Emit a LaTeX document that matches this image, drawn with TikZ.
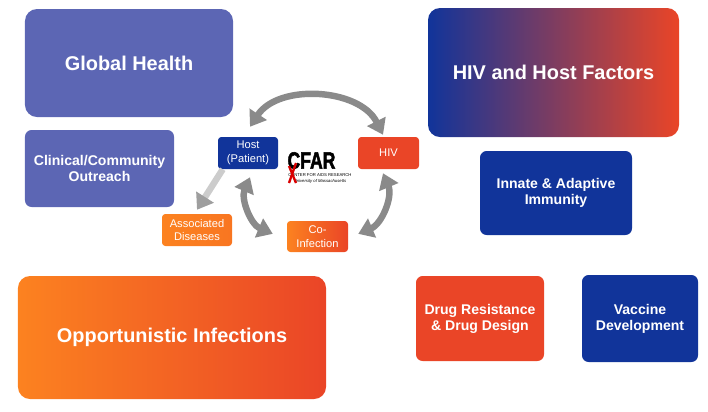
\documentclass[tikz,border=0pt]{standalone}
\usepackage{fontspec}
\setmainfont{Liberation Sans}
\newfontfamily\logofont{Liberation Sans}[BoldFeatures={FakeBold=2.5}]
\usetikzlibrary{arrows.meta}
\definecolor{slate}{RGB}{92,102,180}
\definecolor{navy}{RGB}{17,52,154}
\definecolor{redorange}{RGB}{234,69,39}
\definecolor{cforange}{RGB}{252,130,32}
\definecolor{arrowgray}{RGB}{138,138,138}

\begin{document}
\begin{tikzpicture}[x=0.03cm, y=-0.03cm]
        \tikzstyle{every node}=[text=white, align=center, inner sep=2pt]
        \tikzstyle{bigbox}=[rounded corners=0.36cm, font=\fontsize{17}{20}\selectfont\bfseries]
        \tikzstyle{midbox}=[rounded corners=0.2cm, font=\fontsize{12}{13.5}\selectfont\bfseries]
        \tikzstyle{smallbox}=[rounded corners=0.1cm, font=\fontsize{9.5}{11.5}\selectfont]
        \tikzstyle{cycle}=[draw=arrowgray, line width=5.5pt, {Triangle[length=0.45cm,width=0.6cm]}-{Triangle[length=0.45cm,width=0.6cm]}]

% This figure represents the research areas around the host / HIV cycle.

        \useasboundingbox (0,0) rectangle (708,411);

        \node[bigbox, fill=slate, minimum width=6.24cm, minimum height=3.24cm] (global) at (129,63) {Global Health};
        \node[midbox, fill=slate, minimum width=4.47cm, minimum height=2.31cm] (clinical) at (99.5,168.5) {Clinical/Community\\Outreach};
        \node[bigbox, left color=navy, right color=redorange, minimum width=7.53cm, minimum height=3.87cm] (factors) at (553.5,72.5) {HIV and Host Factors};
        \node[midbox, fill=navy, minimum width=4.56cm, minimum height=2.52cm] (immunity) at (556,193) {Innate \& Adaptive\\Immunity};
        \node[midbox, fill=redorange, minimum width=3.84cm, minimum height=2.55cm] (drugs) at (480,318.5) {Drug Resistance\\\& Drug Design};
        \node[midbox, fill=navy, minimum width=3.48cm, minimum height=2.61cm] (vaccine) at (640,318.5) {Vaccine\\Development};
        \node[bigbox, left color=cforange, right color=redorange, minimum width=9.24cm, minimum height=3.69cm] (infections) at (172,337.5) {Opportunistic Infections};

        \node[smallbox, fill=navy, minimum width=1.8cm, minimum height=0.96cm] (host) at (248,153) {Host\\(Patient)};
        \node[smallbox, fill=redorange, minimum width=1.83cm, minimum height=0.96cm] (hiv) at (388.5,153) {HIV};
        \node[smallbox, left color=cforange, right color=cforange!80!redorange, minimum width=2.1cm, minimum height=0.96cm] (assoc) at (197,230) {Associated\\Diseases};
        \node[smallbox, left color=cforange, right color=redorange, minimum width=1.83cm, minimum height=0.93cm] (coinf) at (317.5,236.5) {Co-\\Infection};

        \node[text=black, font=\logofont\fontsize{20}{20}\selectfont\bfseries, inner sep=0pt, xscale=0.75] (cfar) at (311.5,160.5) {CFAR};
        \node[text=black, font=\fontsize{3.6}{4.4}\selectfont, inner sep=0pt] (cfarsub) at (320,178.5) {CENTER FOR AIDS RESEARCH\\\textit{University of Massachusetts}};
        \draw[red!85!black, line width=2pt] (289,183) -- (296,163);
        \draw[red!85!black, line width=2pt] (296,183) -- (289,166);

        \draw[cycle] ([xshift=0.06cm, yshift=0.3cm]host.north) to[bend left=60] ([xshift=-0.165cm, yshift=0.06cm]hiv.north);
        \draw[cycle] ([xshift=0.06cm, yshift=-0.24cm]host.south) to[bend right=45] ([xshift=-0.42cm, yshift=0.08cm]coinf.west);
        \draw[cycle] ([xshift=-0.165cm, yshift=-0.12cm]hiv.south) to[bend left=45] ([xshift=0.3cm, yshift=0.08cm]coinf.east);
        \draw[draw=black!20, line width=5.5pt, -{Triangle[length=0.45cm,width=0.6cm,color=black!38]}] ([xshift=0.15cm]host.south west) -- ([yshift=0.12cm]assoc.north);

    \end{tikzpicture}
\end{document}
